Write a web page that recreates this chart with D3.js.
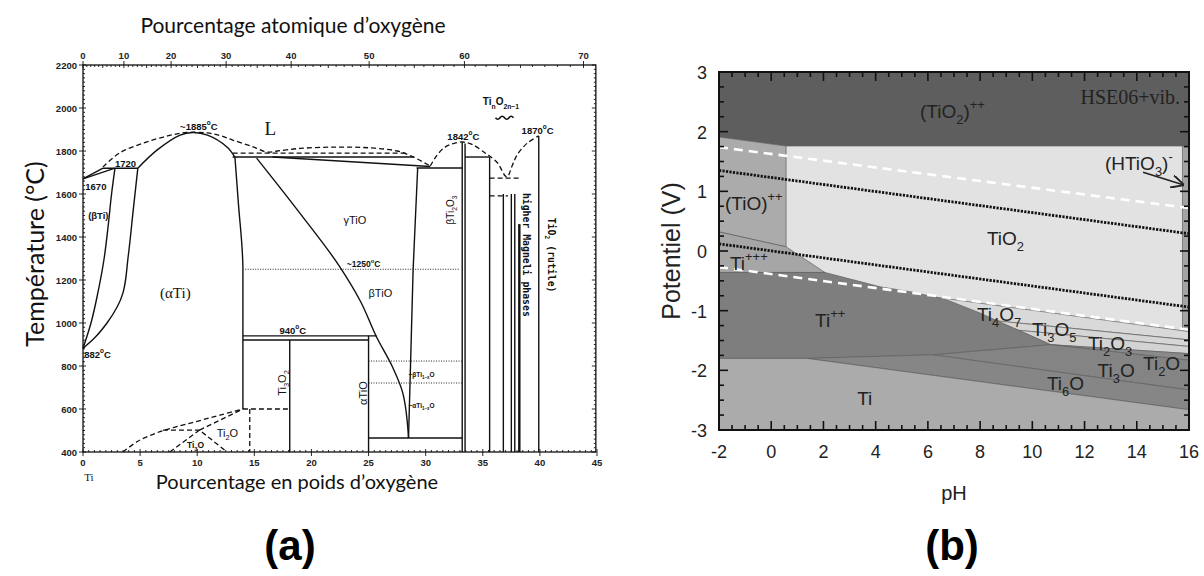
<!DOCTYPE html>
<html><head><meta charset="utf-8">
<script src="https://cdn.jsdelivr.net/npm/d3@7"></script>
<style>body{margin:0;background:#fff}</style>
</head><body>
<svg id="c" width="1204" height="576" xmlns="http://www.w3.org/2000/svg"></svg>
<script>
// ================= PANEL (a) DATA : Ti–O phase diagram (wt% O, °C) =================
const wtTicks   = [0,5,10,15,20,25,30,35,40,45];
const atTicks   = [0,10,20,30,40,50,60,70];
const tempTicks = [400,600,800,1000,1200,1400,1600,1800,2000,2200];

// solid boundaries
const liqLeft      = [[0,1670],[1.75,1720]];
const solBeta      = [[0,1670],[2.8,1720]];
const peri1720     = [[1.75,1720],[4.8,1720]];
const betaTransus  = [[2.8,1720],[2.5,1600],[2.2,1450],[1.85,1300],[1.3,1140],[0.7,1000],[0,882]];
const alphaTransus = [[4.8,1720],[4.4,1526],[3.95,1307],[3.5,1140],[2.1,1000],[1.0,930],[0,882]];
const alphaSolidus = [[4.8,1720],[6.5,1805],[8.5,1874],[9.6,1886],[10.9,1874],[12.6,1819],[13.3,1772]];
const alphaSolvus  = [[13.3,1772],[13.6,1560],[14.0,1250],[14.0,600]];
const flat1772     = [[13.1,1772],[29.0,1772]];
const slope1772    = [[16.6,1772],[30.4,1728]];
const gammaLeft    = [[15.2,1767],[19.0,1510],[22.5,1260],[24.3,1100],[25.7,935],[27.1,795],[28.0,674],[28.5,465]];
const tioRight     = [[29.3,1721],[28.9,1247],[28.5,465]];
const flat1721     = [[29.2,1721],[33.2,1721]];
const line940      = [[14.0,940],[25.7,940]];
const line925      = [[14.0,921],[25.0,921]];
const ti3o2Right   = [[18.1,921],[18.1,400]];
const aTiOLeft     = [[25.0,940],[25.0,400]];
const aTiOBottom   = [[25.0,465],[33.2,465]];
const ti2o3Left    = [[33.2,1842],[33.2,400]];
const ti2o3Right   = [[33.45,1835],[33.45,400]];
const flat1772b    = [[33.45,1772],[35.6,1772]];
const magneli1     = [[35.6,1772],[35.6,400]];
const magneli2     = [[36.8,1600],[36.8,400]];
const magneli3     = [[37.5,1600],[37.5,400]];
const magneli4     = [[37.8,1600],[37.8,400]];
const magneli5     = [[38.2,1460],[38.2,400]];
const rutile       = [[39.9,1870],[39.9,400]];

// dashed boundaries
const liquidus  = [[1.75,1726],[3.2,1791],[5.3,1837],[7.4,1870],[9.1,1886],[10.9,1884],[12.0,1872],[13.1,1851],[14.9,1819],[16.1,1795],[17.0,1800],[19.0,1812],[22.0,1818],[25.0,1815],[27.5,1800],[28.8,1775],[30.4,1730]];
const liquidus2 = [[30.4,1730],[31.0,1781],[31.7,1818],[32.5,1836],[33.2,1842],[34.1,1830],[35.2,1791],[35.6,1777],[36.3,1744],[37.1,1679],[37.6,1735],[38.0,1781],[38.9,1837],[39.9,1870]];
const dash1790  = [[13.1,1790],[28.4,1790]];
const dash1674  = [[35.6,1674],[38.2,1674]];
const dash1591  = [[35.6,1591],[37.2,1591]];
const ordA      = [[3.5,400],[4.8,450],[6.5,490],[8.0,515],[10.0,543],[12.0,572],[14.0,600]];
const ordB      = [[7.0,502],[10.2,502]];
const ordC      = [[10.2,502],[14.0,600]];
const ordTi3O   = [[7.6,400],[10.2,502],[12.6,400]];
const ordV      = [[14.6,600],[14.6,400]];
const ordH      = [[14.0,600],[18.1,600]];

// dotted
const dot1250 = [[14.2,1250],[33.0,1250]];
const dot823  = [[25.0,823],[33.2,823]];
const dot721  = [[25.0,721],[33.2,721]];

// ================= PANEL (b) DATA : Pourbaix diagram (pH, V) =================
const phTicks = [-2,0,2,4,6,8,10,12,14,16];
const vTicks  = [-3,-2,-1,0,1,2,3];

const regTiO2    = [[-2,3],[16,3],[16,-3],[-2,-3]];
const regTiO2pp  = [[-2,3],[16,3],[16,1.76],[0.57,1.76],[-2,1.91]];
const regHTiO3   = [[15.75,1.76],[16,1.76],[16,-1.35],[15.75,-1.33]];
const regTiOpp   = [[-2,1.91],[0.57,1.76],[0.57,0.07],[-2,0.32]];
const regTi4O7   = [[5.4,-0.72],[16,-1.35],[16,-1.49],[8.6,-1.17]];
const regTi3O5   = [[8.6,-1.17],[16,-1.49],[16,-1.60],[9.5,-1.33]];
const regTi2O3   = [[9.5,-1.33],[16,-1.60],[16,-1.72],[10.7,-1.57]];
const regTippp   = [[-2,0.32],[0.57,0.07],[2.06,-0.36],[-2,-0.36]];
const regTipp    = [[-2,-0.36],[2.06,-0.36],[4.17,-0.60],[5.43,-0.69],[6.73,-0.82],[8.0,-1.04],[9.26,-1.29],[10.3,-1.49],[10.7,-1.57],[6.2,-1.74],[1.37,-1.80],[-2,-1.80]];
const regTi2O    = [[10.7,-1.57],[16,-1.72],[16,-1.83]];
const regTi3O    = [[6.2,-1.74],[10.7,-1.57],[16,-1.83],[16,-2.33]];
const regTi6O    = [[1.37,-1.80],[6.2,-1.74],[16,-2.33],[16,-2.66]];
const regTi      = [[-2,-1.80],[1.37,-1.80],[16,-2.66],[16,-3],[-2,-3]];

const waterO2 = [[-2,1.35],[16,0.29]];
const waterH2 = [[-2,0.12],[16,-0.94]];
const hseUpper = [[-2,1.74],[16,0.72]];
const hseLower = [[-2,-0.27],[16,-1.32]];
const arrowHTiO3 = [[14.24,1.32],[15.77,1.11]];

// ================= DRAWING =================
const svg = d3.select('#c');
const SANS = "Lato, 'Open Sans', sans-serif";
const ARIAL = "'Liberation Sans', Arial, sans-serif";
const SERIF = "'Liberation Serif', 'Times New Roman', serif";

function rich(sel, str, size){
  const parts=[]; let re=/(_\{[^}]*\}|\^\{[^}]*\})/g, last=0, m;
  while((m=re.exec(str))){ if(m.index>last) parts.push([str.slice(last,m.index),null]);
    parts.push([m[0].slice(2,-1), m[0][0]==='_'?'sub':'sup']); last=re.lastIndex; }
  if(last<str.length) parts.push([str.slice(last),null]);
  let shift=0;
  parts.forEach(([t,k])=>{
    const target = k==='sub'? size*0.32 : k==='sup'? -size*0.48 : 0;
    sel.append('tspan').attr('dy', target-shift).attr('font-size', k? size*0.68 : size).text(t);
    shift=target;
  });
}

// ---------- panel (a) ----------
const xa = d3.scaleLinear().domain([0,45]).range([83,597]);
const ya = d3.scaleLinear().domain([400,2200]).range([452,65]);
const at2wt = a => 100*16*a/(16*a+47.867*(100-a));
const ga = svg.append('g');
const lin = d3.line().x(d=>xa(d[0])).y(d=>ya(d[1]));
const monoY = d3.line().x(d=>xa(d[0])).y(d=>ya(d[1])).curve(d3.curveMonotoneY);
const cr = d3.line().x(p=>xa(p[0])).y(p=>ya(p[1])).curve(d3.curveCatmullRom);

ga.append('rect').attr('x',xa(0)).attr('y',ya(2200)).attr('width',xa(44.9)-xa(0)).attr('height',ya(400)-ya(2200))
  .attr('fill','none').attr('stroke','#111').attr('stroke-width',1.3);

d3.range(400,2201,20).forEach(t=>{
  const maj = t%200===0;
  ga.append('line').attr('x1',xa(0)-(maj?4:0)).attr('x2',xa(0)+(maj?3:2)).attr('y1',ya(t)).attr('y2',ya(t)).attr('stroke','#111').attr('stroke-width',0.9);
  ga.append('line').attr('x1',xa(44.9)).attr('x2',xa(44.9)-(maj?4:2)).attr('y1',ya(t)).attr('y2',ya(t)).attr('stroke','#111').attr('stroke-width',0.9);
});
tempTicks.forEach(t=>{
  ga.append('text').attr('x',xa(0)-6).attr('y',ya(t)+3.5).attr('text-anchor','end')
    .attr('font-family',ARIAL).attr('font-weight','bold').attr('font-size',9.5).attr('fill','#222').text(t);
});
d3.range(0,45.01,0.5).forEach(w=>{
  const maj = Math.abs(w%5)<1e-9;
  ga.append('line').attr('x1',xa(w)).attr('x2',xa(w)).attr('y1',ya(400)+(maj?4:0)).attr('y2',ya(400)-(maj?3:2)).attr('stroke','#111').attr('stroke-width',0.9);
});
wtTicks.forEach(w=>{
  ga.append('text').attr('x',xa(w)).attr('y',ya(400)+14).attr('text-anchor','middle')
    .attr('font-family',ARIAL).attr('font-weight','bold').attr('font-size',9.5).attr('fill','#222').text(w);
});
d3.range(0,71,1).forEach(a=>{
  const maj=a%10===0, mid=a%5===0;
  ga.append('line').attr('x1',xa(at2wt(a))).attr('x2',xa(at2wt(a))).attr('y1',ya(2200)-(maj?4:0)).attr('y2',ya(2200)+(mid?3:2)).attr('stroke','#111').attr('stroke-width',0.9);
});
atTicks.forEach(a=>{
  ga.append('text').attr('x',xa(at2wt(a))).attr('y',ya(2200)-6).attr('text-anchor','middle')
    .attr('font-family',ARIAL).attr('font-weight','bold').attr('font-size',9.5).attr('fill','#222').text(a);
});

// solid curves
const solidStraight = [liqLeft,solBeta,peri1720,flat1772,slope1772,tioRight,flat1721,line940,line925,ti3o2Right,aTiOLeft,aTiOBottom,ti2o3Left,ti2o3Right,flat1772b,magneli1,magneli2,magneli3,magneli4,rutile];
solidStraight.forEach(d=>ga.append('path').attr('d',lin(d)).attr('fill','none').attr('stroke','#111').attr('stroke-width',1.4));
[betaTransus,alphaTransus,alphaSolvus,gammaLeft].forEach(d=>ga.append('path').attr('d',monoY(d)).attr('fill','none').attr('stroke','#111').attr('stroke-width',1.4));
ga.append('path').attr('d',cr(alphaSolidus)).attr('fill','none').attr('stroke','#111').attr('stroke-width',1.4);
ga.append('path').attr('d',lin(magneli5)).attr('fill','none').attr('stroke','#111').attr('stroke-width',2.4);
// dashed
[liquidus,liquidus2,ordA].forEach(d=>ga.append('path').attr('d',cr(d)).attr('fill','none').attr('stroke','#111').attr('stroke-width',1.3).attr('stroke-dasharray','5,3'));
[dash1790,dash1674,dash1591,ordB,ordC,ordTi3O,ordV,ordH].forEach(d=>ga.append('path').attr('d',lin(d)).attr('fill','none').attr('stroke','#111').attr('stroke-width',1.3).attr('stroke-dasharray','5,3'));
// dotted
[dot1250,dot823,dot721].forEach(d=>ga.append('path').attr('d',lin(d)).attr('fill','none').attr('stroke','#222').attr('stroke-width',1).attr('stroke-dasharray','1,1.5'));

// labels panel (a)
const labA = [
  ['~1885^{o}C',8.5,1898,9.5,'bold'],
  ['1720',2.8,1727,9.5,'bold'],
  ['1670',0.2,1619,9.5,'bold'],
  ['(βTi)',0.45,1484,9.5,'bold'],
  ['882^{o}C',0.1,837,9.5,'bold'],
  ['γTiO',22.8,1462,11,'normal'],
  ['~1250^{o}C',23.1,1260,8.5,'bold'],
  ['βTiO',25.0,1121,11,'normal'],
  ['940^{o}C',17.2,950,9.5,'bold'],
  ['1842^{o}C',31.9,1851,9.5,'bold'],
  ['1870^{o}C',38.4,1879,9.5,'bold'],
  ['Ti_{n}O_{2n−1}',35.0,2012,10,'bold'],
  ['Ti_{2}O',11.7,470,11,'normal'],
  ['Ti_{3}O',9.1,419,8.5,'bold'],
  ['~βTi_{1−x}O',28.5,749,6.5,'bold'],
  ['~αTi_{1−x}O',28.5,605,6.5,'bold'],
];
labA.forEach(([s,w,t,size,fw])=>{
  const tx = ga.append('text').attr('x',xa(w)).attr('y',ya(t)).attr('font-family',ARIAL).attr('font-weight',fw).attr('fill','#111');
  rich(tx,s,size);
});
ga.append('text').attr('x',xa(15.9)).attr('y',ya(1874)).attr('font-family',SERIF).attr('font-size',19).attr('fill','#111').text('L');
ga.append('text').attr('x',xa(6.74)).attr('y',ya(1118)).attr('font-family',SERIF).attr('font-size',15).attr('fill','#111').text('(αTi)');
// small wavy brace under TinO2n-1
{
  const cx = xa(36.9), cy = ya(1950);
  ga.append('path').attr('d',`M${cx-9},${cy-1} q2.25,3 4.5,0 t4.5,0 t4.5,0 t4.5,0`).attr('fill','none').attr('stroke','#111').attr('stroke-width',1.6);
}
const rotA = [
  ['Ti_{3}O_{2}',17.4,721,-90,11,'normal'],
  ['αTiO',24.5,674,-90,11,'normal'],
  ['βTi_{2}O_{3}',32.1,1526,-90,10,'normal'],
];
rotA.forEach(([s,w,t,r,size,fw])=>{
  const tx = ga.append('text').attr('transform',`translate(${xa(w)+4},${ya(t)}) rotate(${r})`).attr('text-anchor','middle')
    .attr('font-family',ARIAL).attr('font-weight',fw).attr('fill','#111');
  rich(tx,s,size);
});
const rot90 = [['higher Magneli phases',38.55,1605],['TiO_{2} (rutile)',40.75,1490]];
rot90.forEach(([s,w,t])=>{
  const tx = ga.append('text').attr('transform',`translate(${xa(w)},${ya(t)}) rotate(90)`)
    .attr('font-family',"'DejaVu Sans Mono', 'Liberation Mono', monospace").attr('font-weight','bold').attr('fill','#111');
  rich(tx,s,9.8);
});
ga.append('text').attr('x',xa(0.1)).attr('y',481).attr('font-family',SERIF).attr('font-size',11).attr('fill','#111').text('Ti');

svg.append('text').attr('x',293).attr('y',33).attr('text-anchor','middle').attr('font-family',SANS).attr('font-size',21).attr('fill','#111').text('Pourcentage atomique d’oxygène');
svg.append('text').attr('x',297).attr('y',489).attr('text-anchor','middle').attr('font-family',SANS).attr('font-size',20).attr('fill','#111').text('Pourcentage en poids d’oxygène');
svg.append('text').attr('transform','translate(44,254) rotate(-90)').attr('text-anchor','middle').attr('font-family',SANS).attr('font-size',25).attr('fill','#111').text('Température (°C)');
svg.append('text').attr('x',290).attr('y',560).attr('text-anchor','middle').attr('font-family',ARIAL).attr('font-weight','bold').attr('font-size',42).attr('fill','#000').text('(a)');

// ---------- panel (b) ----------
const xb = d3.scaleLinear().domain([-2,16]).range([719,1189]);
const yb = d3.scaleLinear().domain([-3,3]).range([430,72]);
const gb = svg.append('g');
const defs = svg.append('defs');
defs.append('clipPath').attr('id','clipb').append('rect').attr('x',xb(-2)).attr('y',yb(3)).attr('width',xb(16)-xb(-2)).attr('height',yb(-3)-yb(3));
const area = gb.append('g').attr('clip-path','url(#clipb)');
const poly = d3.line().x(d=>xb(d[0])).y(d=>yb(d[1]));
const regions = [
  [regTiO2,'#e2e2e2'],[regTiO2pp,'#5e5e5e'],[regHTiO3,'#a3a3a3'],[regTiOpp,'#ababab'],
  [regTi4O7,'#d9d9d9'],[regTi3O5,'#d6d6d6'],[regTi2O3,'#d3d3d3'],
  [regTippp,'#a6a6a6'],[regTipp,'#7e7e7e'],[regTi2O,'#8a8a8a'],[regTi3O,'#848484'],[regTi6O,'#868686'],[regTi,'#ababab']
];
regions.forEach(([d,c])=>area.append('path').attr('d',poly(d)+'Z').attr('fill',c).attr('stroke','#606060').attr('stroke-width',0.7));
area.append('path').attr('d',poly(hseUpper)).attr('stroke','#fff').attr('stroke-width',2.6).attr('stroke-dasharray','9,6').attr('fill','none');
area.append('path').attr('d',poly(hseLower)).attr('stroke','#fff').attr('stroke-width',2.6).attr('stroke-dasharray','9,6').attr('fill','none');
area.append('path').attr('d',poly(waterO2)).attr('stroke','#111').attr('stroke-width',2.8).attr('stroke-dasharray','2.2,1.3').attr('fill','none');
area.append('path').attr('d',poly(waterH2)).attr('stroke','#111').attr('stroke-width',2.8).attr('stroke-dasharray','2.2,1.3').attr('fill','none');

d3.range(-2,16.01,0.5).forEach(p=>{
  const maj = Math.abs(p%2)<1e-9;
  const L = maj?9:5;
  gb.append('line').attr('x1',xb(p)).attr('x2',xb(p)).attr('y1',yb(-3)).attr('y2',yb(-3)-L).attr('stroke','#111').attr('stroke-width',1.6);
  gb.append('line').attr('x1',xb(p)).attr('x2',xb(p)).attr('y1',yb(3)).attr('y2',yb(3)+L).attr('stroke','#111').attr('stroke-width',1.6);
});
d3.range(-3,3.01,0.25).forEach(v=>{
  const maj = Math.abs(v-Math.round(v))<1e-9;
  const L = maj?9:5;
  gb.append('line').attr('x1',xb(-2)).attr('x2',xb(-2)+L).attr('y1',yb(v)).attr('y2',yb(v)).attr('stroke','#111').attr('stroke-width',1.6);
  gb.append('line').attr('x1',xb(16)).attr('x2',xb(16)-L).attr('y1',yb(v)).attr('y2',yb(v)).attr('stroke','#111').attr('stroke-width',1.6);
});
gb.append('rect').attr('x',xb(-2)).attr('y',yb(3)).attr('width',xb(16)-xb(-2)).attr('height',yb(-3)-yb(3)).attr('fill','none').attr('stroke','#111').attr('stroke-width',2);
phTicks.forEach(p=>gb.append('text').attr('x',xb(p)).attr('y',yb(-3)+28).attr('text-anchor','middle').attr('font-family',ARIAL).attr('font-size',18).attr('fill','#222').text(p));
vTicks.forEach(v=>gb.append('text').attr('x',xb(-2)-12).attr('y',yb(v)+7).attr('text-anchor','end').attr('font-family',ARIAL).attr('font-size',18).attr('fill','#222').text(v));

const labB = [
  ['(TiO_{2})^{++}',5.7,2.23],
  ['(HTiO_{3})^{-}',12.78,1.36],
  ['(TiO)^{++}',-1.77,0.69],
  ['TiO_{2}',8.26,0.10],
  ['Ti^{+++}',-1.58,-0.32],
  ['Ti^{++}',1.68,-1.27],
  ['Ti',3.29,-2.58],
  ['Ti_{4}O_{7}',7.88,-1.17],
  ['Ti_{3}O_{5}',9.99,-1.42],
  ['Ti_{2}O_{3}',12.13,-1.66],
  ['Ti_{2}O',14.24,-1.99],
  ['Ti_{3}O',12.5,-2.11],
  ['Ti_{6}O',10.56,-2.33],
];
labB.forEach(([s,p,v])=>{
  const tx = gb.append('text').attr('x',xb(p)).attr('y',yb(v)).attr('font-family',ARIAL).attr('fill','#222');
  rich(tx,s,19);
});
gb.append('text').attr('x',xb(15.66)).attr('y',yb(2.46)).attr('text-anchor','end').attr('font-family',SERIF).attr('font-size',20).attr('fill','#222').text('HSE06+vib.');
defs.append('marker').attr('id','arr').attr('viewBox','0 0 10 10').attr('refX',9).attr('refY',5).attr('markerWidth',8).attr('markerHeight',8).attr('orient','auto')
  .append('path').attr('d','M0,0 L10,5 L0,10').attr('fill','none').attr('stroke','#222').attr('stroke-width',1.5);
gb.append('path').attr('d',poly(arrowHTiO3)).attr('stroke','#222').attr('stroke-width',1.6).attr('fill','none').attr('marker-end','url(#arr)');

svg.append('text').attr('x',954).attr('y',500).attr('text-anchor','middle').attr('font-family',ARIAL).attr('font-size',20).attr('fill','#222').text('pH');
svg.append('text').attr('transform','translate(680,251) rotate(-90)').attr('text-anchor','middle').attr('font-family',ARIAL).attr('font-size',25).attr('fill','#222').text('Potentiel (V)');
svg.append('text').attr('x',952).attr('y',560).attr('text-anchor','middle').attr('font-family',ARIAL).attr('font-weight','bold').attr('font-size',42).attr('fill','#000').text('(b)');
</script>
</body></html>
